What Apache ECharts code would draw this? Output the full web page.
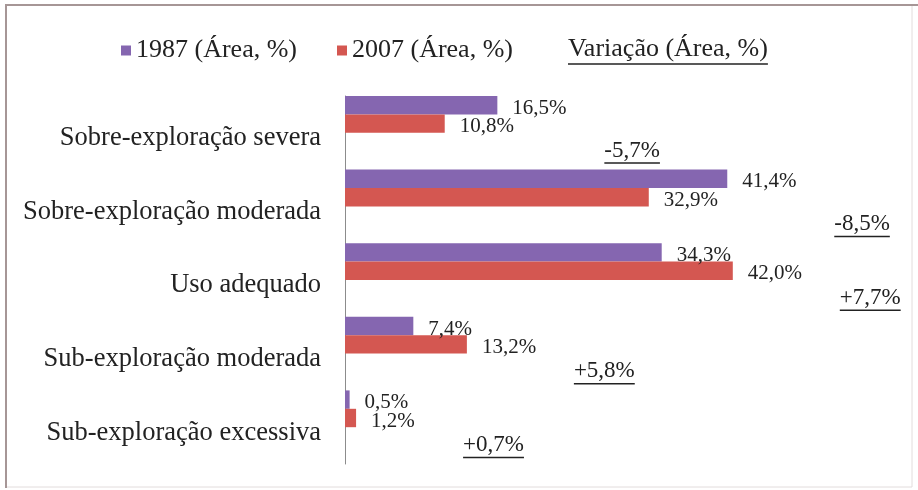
<!DOCTYPE html>
<html>
<head>
<meta charset="utf-8">
<script src="https://cdn.jsdelivr.net/npm/echarts@6/dist/echarts.min.js"></script>
<style>
  html, body { margin: 0; padding: 0; background: #fff; }
  #chart { width: 918px; height: 490px; }
</style>
</head>
<body>
<div id="chart"></div>
<script>
// categorias (de cima para baixo)
const categories = [
  'Sobre-exploração severa',
  'Sobre-exploração moderada',
  'Uso adequado',
  'Sub-exploração moderada',
  'Sub-exploração excessiva'
]
const area1987 = [16.5, 41.4, 34.3, 7.4, 0.5]
const area2007 = [10.8, 32.9, 42.0, 13.2, 1.2]
const variacao = [-5.7, -8.5, 7.7, 5.8, 0.7]
const seriesNames = ['1987 (Área, %)', '2007 (Área, %)', 'Variação (Área, %)']

const serif = '"Liberation Serif", "Times New Roman", serif'
const txtColor = '#222'

// largura do texto p/ sublinhado
const ctx = document.createElement('canvas').getContext('2d')
function textWidth(str, size) {
  ctx.font = size + 'px ' + serif
  return ctx.measureText(str).width
}

function pct(v) {
  return v.toFixed(1).replace('.', ',') + '%'
}
function varLabel(v) {
  return (v > 0 ? '+' : '') + pct(v)
}

// posicao do rotulo de variacao: ao lado da maior barra
const varPos = area1987.map((v, i) => Math.max(v, area2007[i]))

const varSize = 23
const varRich = { v: { fontSize: varSize, fontFamily: serif, color: txtColor, lineHeight: 22 } }
variacao.forEach((v, i) => {
  varRich['u' + i] = {
    width: textWidth(varLabel(v), varSize),
    height: 1.5,
    lineHeight: 3,
    backgroundColor: txtColor
  }
})

let chart = echarts.init(document.getElementById('chart'))
const dataLabel = {
  show: true,
  position: 'right',
  distance: 15,
  offset: [0, 3],
  fontSize: 21,
  fontFamily: serif,
  color: txtColor,
  formatter: p => pct(p.value)
}

const option = {
  backgroundColor: '#fff',
  animation: false,
  graphic: [
    {
      type: 'rect',
      shape: { x: 6, y: 5, width: 906, height: 482 },
      style: { fill: 'none', stroke: '#e2dcdc', lineWidth: 1 }
    },
    {
      type: 'polyline',
      shape: { points: [[6, 488], [6, 5], [918, 5]] },
      style: { fill: 'none', stroke: '#a69696', lineWidth: 2 }
    }
  ],
  legend: {
    data: seriesNames,
    left: 116,
    top: 31,
    icon: 'rect',
    itemWidth: 10,
    itemHeight: 10,
    itemGap: 40,
    selectedMode: false,
    textStyle: {
      fontSize: 26,
      fontFamily: serif,
      color: txtColor,
      rich: {
        v: { fontSize: 26, fontFamily: serif, color: txtColor, lineHeight: 27 },
        u: {
          width: textWidth(seriesNames[2], 26),
          height: 1.5,
          lineHeight: 3,
          backgroundColor: txtColor
        }
      }
    },
    formatter: name => (name === seriesNames[2] ? '{v|' + name + '}\n{u|}' : name)
  },
  grid: {
    left: 345,
    right: 19,
    top: 96,
    bottom: 26
  },
  xAxis: {
    type: 'value',
    min: 0,
    max: 60,
    show: false
  },
  yAxis: {
    type: 'category',
    inverse: true,
    data: categories,
    axisLine: { lineStyle: { color: '#8c8c8c', width: 1 } },
    axisTick: { show: false },
    axisLabel: {
      margin: 24,
      formatter: v => '{c|' + v + '}',
      rich: {
        c: {
          fontSize: 26.5,
          fontFamily: serif,
          color: txtColor,
          padding: [11, 0, 0, 0]
        }
      }
    }
  },
  series: [
    {
      name: seriesNames[0],
      type: 'bar',
      data: area1987,
      barWidth: 18.4,
      barGap: '0%',
      barCategoryGap: '0%',
      itemStyle: { color: '#8566b0' },
      label: dataLabel,
      silent: true
    },
    {
      name: seriesNames[1],
      type: 'bar',
      data: area2007,
      barWidth: 18.4,
      itemStyle: { color: '#d45751' },
      label: dataLabel,
      silent: true
    },
    {
      // barra invisivel, so para o rotulo da variacao
      name: seriesNames[2],
      type: 'bar',
      data: varPos,
      barWidth: 18.4,
      itemStyle: { color: 'rgba(0,0,0,0)' },
      silent: true,
      label: {
        show: true,
        position: 'right',
        distance: 107,
        offset: [0, 10],
        rich: varRich,
        formatter: p => '{v|' + varLabel(variacao[p.dataIndex]) + '}\n{u' + p.dataIndex + '|}'
      }
    },
    {
      // espaco vazio no fim de cada categoria
      name: 'spacer',
      type: 'bar',
      data: [],
      barWidth: 18.4,
      silent: true
    }
  ]
}
chart.setOption(option)
</script>
</body>
</html>
